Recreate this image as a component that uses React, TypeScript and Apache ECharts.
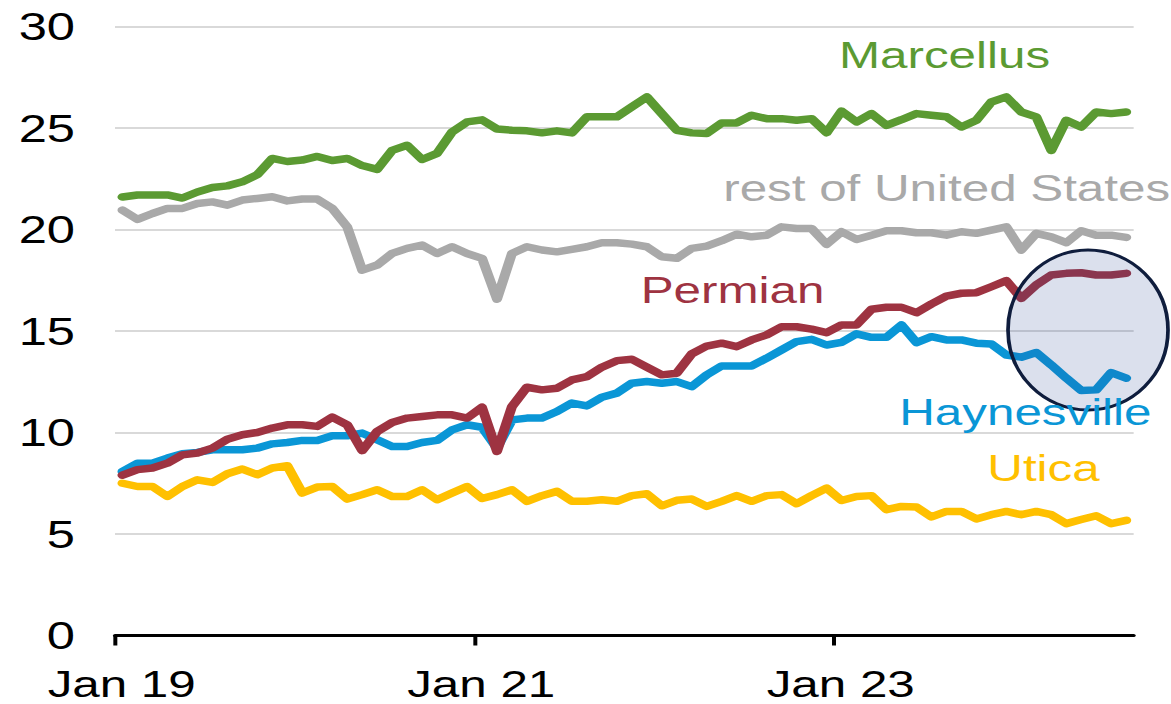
import React, { useEffect, useRef } from "react";
import * as echarts from "echarts";

// Monthly values, Jan 2019 .. Aug 2024 (index 0 = Jan 2019), billion cubic feet per day
const marcellus = [
  21.6, 21.7, 21.7, 21.7, 21.55, 21.85, 22.07, 22.15, 22.35, 22.7, 23.5, 23.35,
  23.42, 23.6, 23.4, 23.5, 23.15, 22.96, 23.9, 24.15, 23.45, 23.75, 24.8, 25.3,
  25.4, 24.95, 24.89, 24.86, 24.76, 24.86, 24.76, 25.55, 25.55, 25.55, 26.04, 26.53,
  25.71, 24.89, 24.76, 24.73, 25.25, 25.25, 25.63, 25.46, 25.46, 25.38, 25.46, 24.77,
  25.83, 25.3, 25.71, 25.13, 25.41, 25.71, 25.63, 25.55, 25.05, 25.38, 26.28, 26.53,
  25.79, 25.55, 23.9, 25.38, 25.05, 25.79, 25.71, 25.79,
];
const restOfUS = [
  20.95, 20.5, 20.79, 21.04, 21.04, 21.28, 21.36, 21.2, 21.45, 21.53, 21.61, 21.41,
  21.5, 21.5, 21.04, 20.13, 18.0, 18.25, 18.82, 19.07, 19.23, 18.82, 19.15, 18.82,
  18.58, 16.57, 18.82, 19.15, 18.99, 18.9, 19.02, 19.15, 19.35, 19.35, 19.28, 19.15,
  18.66, 18.58, 19.07, 19.18, 19.45, 19.77, 19.64, 19.72, 20.13, 20.05, 20.05, 19.27,
  19.89, 19.51, 19.72, 19.94, 19.94, 19.84, 19.84, 19.72, 19.89, 19.81, 19.97, 20.13,
  18.99, 19.81, 19.64, 19.35, 19.94, 19.72, 19.72, 19.61,
];
const permian = [
  7.9, 8.17, 8.25, 8.49, 8.9, 8.99, 9.23, 9.67, 9.89, 10.0, 10.22, 10.38,
  10.38, 10.3, 10.76, 10.38, 9.11, 10.05, 10.49, 10.71, 10.79, 10.87, 10.87, 10.71,
  11.24, 9.07, 11.28, 12.23, 12.1, 12.18, 12.59, 12.75, 13.22, 13.54, 13.61, 13.22,
  12.84, 12.92, 13.87, 14.26, 14.4, 14.23, 14.56, 14.81, 15.21, 15.21, 15.09, 14.92,
  15.3, 15.3, 16.07, 16.17, 16.17, 15.9, 16.33, 16.72, 16.86, 16.89, 17.18, 17.48,
  16.61, 17.27, 17.76, 17.84, 17.87, 17.76, 17.76, 17.84,
];
const haynesville = [
  8.08, 8.49, 8.49, 8.74, 8.95, 9.02, 9.15, 9.15, 9.15, 9.23, 9.44, 9.51,
  9.61, 9.61, 9.84, 9.84, 9.97, 9.64, 9.31, 9.31, 9.51, 9.61, 10.13, 10.38,
  10.26, 9.23, 10.62, 10.71, 10.71, 11.03, 11.45, 11.31, 11.74, 11.94, 12.43, 12.51,
  12.43, 12.51, 12.26, 12.84, 13.28, 13.28, 13.28, 13.66, 14.07, 14.48, 14.59, 14.31,
  14.44, 14.86, 14.69, 14.69, 15.3, 14.43, 14.72, 14.56, 14.56, 14.4, 14.36, 13.82,
  13.71, 13.94, 13.33, 12.68, 12.07, 12.1, 12.95, 12.68,
];
const utica = [
  7.5, 7.34, 7.34, 6.85, 7.34, 7.67, 7.54, 7.97, 8.2, 7.92, 8.25, 8.36,
  7.02, 7.31, 7.34, 6.72, 6.94, 7.18, 6.85, 6.85, 7.18, 6.69, 7.02, 7.34,
  6.75, 6.94, 7.18, 6.61, 6.89, 7.1, 6.61, 6.61, 6.69, 6.61, 6.89, 6.98,
  6.39, 6.66, 6.72, 6.36, 6.61, 6.89, 6.61, 6.89, 6.94, 6.49, 6.89, 7.26,
  6.65, 6.85, 6.89, 6.2, 6.36, 6.33, 5.84, 6.11, 6.11, 5.74, 5.95, 6.11,
  5.95, 6.11, 5.95, 5.51, 5.71, 5.9, 5.51, 5.67,
];

const seriesNames = ["Utica", "Haynesville", "Permian", "rest of United States", "Marcellus"];
const seriesData = [utica, haynesville, permian, restOfUS, marcellus];
const seriesColors = ["#ffc000", "#0a96d6", "#9e3341", "#a9a9a9", "#5b9a32"];

const xTickMonths = [0, 24, 48];
const xTickLabels = ["Jan 19", "Jan 21", "Jan 23"];
const xMaxMonth = 68;

const S = 4 / 3;
const W = 1171 / S;
const H = 704;
const FONT = "'Liberation Sans', Arial, sans-serif";

export default function App() {
  const ref = useRef<HTMLDivElement>(null);

  useEffect(() => {
    if (!ref.current) return;
    const chart = echarts.init(ref.current, null, { renderer: "svg" });

    const series = seriesNames.map((name, si) => ({
      name,
      type: "line",
      data: seriesData[si].map((v, i) => [i + 0.5, v]),
      showSymbol: false,
      symbol: "none",
      lineStyle: { color: seriesColors[si], width: 7.5, cap: "round", join: "round" },
      z: 2 + si,
    }));

    const labelPos: Record<string, [number, number]> = {
      Marcellus: [708.4, 55],
      "rest of United States": [710, 188],
      Permian: [549.4, 290],
      Haynesville: [769, 412],
      Utica: [782.6, 468],
    };

    const texts = seriesNames.map((name, si) => ({
      type: "text",
      x: labelPos[name][0],
      y: labelPos[name][1],
      z: 120,
      style: {
        text: name,
        fill: seriesColors[si],
        fontSize: 37,
        fontFamily: FONT,
        textAlign: "center",
        align: "center",
        textVerticalAlign: "middle",
        verticalAlign: "middle",
      },
    }));

    chart.setOption({
      animation: false,
      backgroundColor: "#ffffff",
      grid: { left: 115 / S, right: W - 1134 / S, top: 26.5, bottom: H - 635.5, containLabel: false },
      xAxis: {
        type: "value",
        min: 0,
        max: xMaxMonth,
        interval: 24,
        splitLine: { show: false },
        axisLine: { show: true, lineStyle: { color: "#000", width: 3 } },
        axisTick: {
          show: true,
          customValues: xTickMonths,
          length: 10,
          lineStyle: { color: "#000", width: 3 },
        },
        axisLabel: {
          customValues: xTickMonths,
          formatter: (v: number) => {
            const k = xTickMonths.indexOf(Math.round(v));
            return k >= 0 ? xTickLabels[k] : "";
          },
          fontSize: 37,
          fontFamily: FONT,
          color: "#000",
          margin: 30,
          padding: [0, 0, 0, 10],
        },
      },
      yAxis: {
        type: "value",
        min: 0,
        max: 30,
        interval: 5,
        axisLine: { show: false },
        axisTick: { show: false },
        splitLine: { show: true, lineStyle: { color: "#d9d9d9", width: 2 } },
        axisLabel: { fontSize: 38, fontFamily: FONT, color: "#000", margin: 30 },
      },
      series,
      graphic: [
        {
          type: "ellipse",
          shape: { cx: 1088 / S, cy: 330, rx: 80 / S, ry: 80 },
          style: { fill: "rgba(40,70,150,0.17)", stroke: "#0f1d3d", lineWidth: 2.8 },
          z: 100,
        },
        ...texts,
      ],
    });

    return () => chart.dispose();
  }, []);

  return (
    <div
      ref={ref}
      style={{
        position: "absolute",
        left: 0,
        top: 0,
        width: W,
        height: H,
        transform: `scaleX(${S})`,
        transformOrigin: "0 0",
      }}
    />
  );
}
